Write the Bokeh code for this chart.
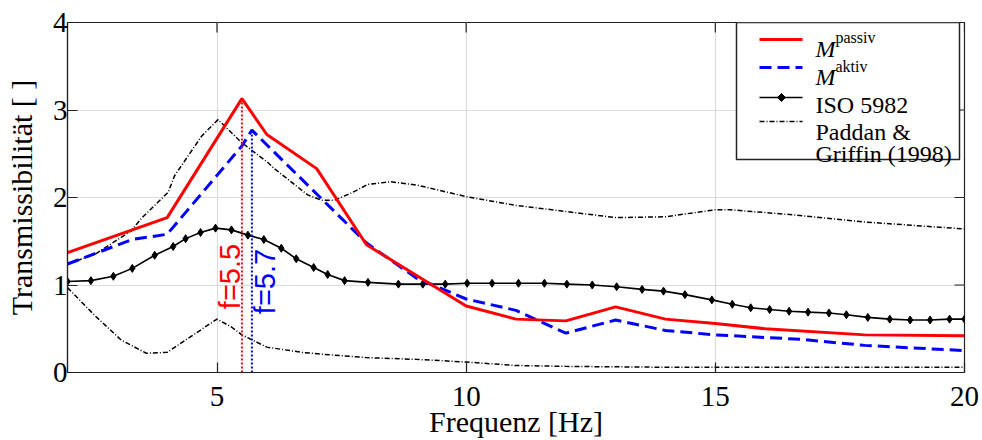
import math
from bokeh.plotting import figure
from bokeh.models import (Label, BoxAnnotation, Arrow, PolyAnnotation, FixedTicker)
from bokeh.embed import file_html
from bokeh.resources import INLINE

# ---------------- data ----------------
x_passiv = [2, 4, 5.5, 6, 7, 8, 10, 11, 12, 13, 14, 15, 16, 18, 20]
y_passiv = [1.37, 1.77, 3.13, 2.72, 2.33, 1.46, 0.76, 0.61, 0.59, 0.75, 0.61, 0.56, 0.50, 0.43, 0.42]

x_aktiv = [2, 3.3, 4, 5.5, 5.7, 8, 9, 10, 11, 12, 13, 14, 15, 16.7, 18, 20]
y_aktiv = [1.24, 1.52, 1.58, 2.59, 2.77, 1.48, 1.08, 0.84, 0.71, 0.45, 0.60, 0.48, 0.43, 0.38, 0.31, 0.25]

x_iso = [2.0, 2.47, 2.92, 3.30, 3.75, 4.12, 4.37, 4.67, 4.97, 5.29, 5.62, 5.94, 6.29, 6.59,
         6.94, 7.22, 7.56, 8.03, 8.64, 9.13, 9.58, 10.02, 10.52, 11.05, 11.57, 12.02, 12.53,
         13.02, 13.53, 13.96, 14.39, 14.93, 15.34, 15.71, 16.09, 16.48, 16.86, 17.28, 17.63,
         18.06, 18.50, 18.91, 19.31, 19.70, 20.0]
y_iso = [1.04, 1.05, 1.10, 1.19, 1.34, 1.44, 1.53, 1.60, 1.65, 1.63, 1.57, 1.52, 1.42, 1.30,
         1.20, 1.12, 1.05, 1.03, 1.01, 1.01, 1.01, 1.02, 1.02, 1.02, 1.02, 1.01, 1.00,
         0.98, 0.95, 0.93, 0.89, 0.83, 0.78, 0.74, 0.72, 0.70, 0.69, 0.68, 0.66,
         0.63, 0.61, 0.60, 0.60, 0.61, 0.61]

x_pg_upper = [2.0, 2.55, 3.28, 3.48, 4.02, 4.15, 4.69, 5.02, 5.49, 6.02, 6.15, 6.82, 7.09, 7.36,
              7.69, 8.03, 8.49, 9.03, 10.0, 11.0, 12.0, 13.0, 14.0, 15.0, 15.3, 16.6, 18.0, 20.0]
y_pg_upper = [1.24, 1.35, 1.62, 1.76, 2.06, 2.25, 2.70, 2.89, 2.63, 2.40, 2.33, 2.03, 1.97, 1.97,
              2.05, 2.15, 2.18, 2.14, 2.01, 1.91, 1.84, 1.77, 1.78, 1.86, 1.86, 1.80, 1.72, 1.64]

x_pg_lower = [2.0, 2.55, 3.08, 3.58, 4.0, 4.55, 5.0, 5.29, 5.5, 6.0, 6.7, 7.3, 8.0, 9.0, 10.0,
              11.0, 12.0, 14.0, 16.0, 18.0, 20.0]
y_pg_lower = [0.97, 0.65, 0.37, 0.22, 0.23, 0.44, 0.61, 0.52, 0.43, 0.29, 0.23, 0.20, 0.17, 0.15,
              0.12, 0.08, 0.07, 0.06, 0.06, 0.06, 0.06]

x_ticks = [5, 10, 15, 20]
y_ticks = [0, 1, 2, 3, 4]

# ---------------- styles ----------------
RED = "#ff0000"
BLUE = "#0000ff"
DARK = "#222222"
SERIF = "Liberation Serif"
SANS = "Liberation Sans"
X_MIN, X_MAX, Y_MIN, Y_MAX = 2, 20, 0, 4

p = figure(width=982, height=440, x_range=(X_MIN, X_MAX), y_range=(Y_MIN, Y_MAX),
           output_backend="svg", toolbar_location=None,
           min_border_left=67, min_border_right=18, min_border_top=22, min_border_bottom=64)
p.background_fill_color = "white"
p.border_fill_color = "white"
p.outline_line_color = DARK
p.outline_line_width = 1.2

# grid
p.xgrid.ticker = FixedTicker(ticks=x_ticks)
p.ygrid.ticker = FixedTicker(ticks=y_ticks)
p.xgrid.grid_line_color = "#dcdcdc"
p.ygrid.grid_line_color = "#dcdcdc"
p.xgrid.grid_line_width = 1.2
p.ygrid.grid_line_width = 1.2

def style_axis(ax, ticks):
    ax.ticker = FixedTicker(ticks=ticks)
    ax.major_tick_in = 10
    ax.major_tick_out = 0
    ax.minor_tick_line_color = None
    ax.major_tick_line_color = DARK
    ax.major_tick_line_width = 1.2
    ax.axis_line_color = DARK
    ax.axis_line_width = 1.2
    ax.major_label_text_font = SERIF
    ax.major_label_text_font_size = "29px"
    ax.major_label_text_color = "black"
    ax.axis_label_text_font = SERIF
    ax.axis_label_text_font_size = "30px"
    ax.axis_label_text_font_style = "normal"
    ax.axis_label_text_color = "black"

xa = p.xaxis[0]
style_axis(xa, x_ticks)
xa.axis_label = "Frequenz [Hz]"
xa.major_label_standoff = 14
xa.axis_label_standoff = -4

ya = p.yaxis[0]
style_axis(ya, y_ticks)
ya.axis_label = "Transmissibilität [ ]"
ya.major_label_standoff = 0
ya.axis_label_standoff = 12

# mirrored inward ticks on top and right edges (screen-length rays)
p.ray(x=x_ticks, y=[Y_MAX] * len(x_ticks), length=10, length_units="screen",
      angle=-math.pi / 2, line_color=DARK, line_width=1.2)
p.ray(x=[X_MAX] * len(y_ticks), y=y_ticks, length=10, length_units="screen",
      angle=math.pi, line_color=DARK, line_width=1.2)

# ---------------- data lines ----------------
p.line(x_pg_upper, y_pg_upper, line_color="black", line_width=1.5, line_dash="5 2 1 2")
p.line(x_pg_lower, y_pg_lower, line_color="black", line_width=1.5, line_dash="5 2 1 2")
p.line(x_iso, y_iso, line_color="black", line_width=1.6)
p.scatter(x_iso, y_iso, marker="diamond", size=8, fill_color="black", line_color="black")
p.line(x_aktiv, y_aktiv, line_color=BLUE, line_width=3, line_dash="12 6")
p.line(x_passiv, y_passiv, line_color=RED, line_width=3)

# peak markers
ip = max(range(len(y_passiv)), key=lambda i: y_passiv[i])
ia = max(range(len(y_aktiv)), key=lambda i: y_aktiv[i])
fp, yp = x_passiv[ip], y_passiv[ip]
fa, ya_ = x_aktiv[ia], y_aktiv[ia]
p.segment(x0=[fp], y0=[0], x1=[fp], y1=[yp], line_color=RED, line_width=2, line_dash="2 2")
p.segment(x0=[fa], y0=[0], x1=[fa], y1=[ya_], line_color=BLUE, line_width=2, line_dash="2 2")
p.add_layout(Label(x=fp, y=0, x_offset=-12, y_offset=96, angle=math.pi / 2,
                   text=f"f={fp}", text_font=SANS, text_font_size="29px",
                   text_color=RED, text_align="center", text_baseline="middle"))
p.add_layout(Label(x=fa, y=0, x_offset=13, y_offset=91, angle=math.pi / 2,
                   text=f"f={fa}", text_font=SANS, text_font_size="29px",
                   text_color=BLUE, text_align="center", text_baseline="middle"))

# ---------------- manual legend (screen units, origin = frame bottom-left) ----------------
L, R, T, B = 669, 892, 350, 213
p.add_layout(BoxAnnotation(left=L, right=R, top=T, bottom=B,
                           left_units="screen", right_units="screen",
                           top_units="screen", bottom_units="screen",
                           fill_color="white", fill_alpha=1.0,
                           line_color=DARK, line_alpha=1.0, line_width=1.5))
gx0, gx1 = 692, 735
def legend_line(sy, color, width, dash="solid"):
    p.add_layout(Arrow(end=None, x_start=gx0, y_start=sy, x_end=gx1, y_end=sy,
                       start_units="screen", end_units="screen",
                       line_color=color, line_width=width, line_dash=dash))

legend_line(333, RED, 3)
legend_line(305, BLUE, 3, "12 6")
legend_line(275, "black", 1.6)
legend_line(251, "black", 1.5, "5 2 1 2")
mx, my, md = 714, 275, 4
p.add_layout(PolyAnnotation(xs=[mx - md, mx, mx + md, mx], ys=[my, my + md, my, my - md],
                            xs_units="screen", ys_units="screen",
                            fill_color="black", fill_alpha=1, line_color="black", line_alpha=1))

tx = 748
def legend_text(x, y, text, size="24px", style="normal"):
    p.add_layout(Label(x=x, y=y, x_units="screen", y_units="screen", text=text,
                       text_font=SERIF, text_font_size=size, text_font_style=style,
                       text_color="black", text_baseline="alphabetic", text_align="left"))

legend_text(tx, 324, "M", style="italic")
legend_text(tx + 20, 335, "passiv", size="16px")
legend_text(tx, 296, "M", style="italic")
legend_text(tx + 20, 306, "aktiv", size="16px")
legend_text(tx, 268, "ISO 5982")
legend_text(tx, 241, "Paddan &")
legend_text(tx, 219, "Griffin (1998)")

open("out.html", "w").write(file_html(p, INLINE))
